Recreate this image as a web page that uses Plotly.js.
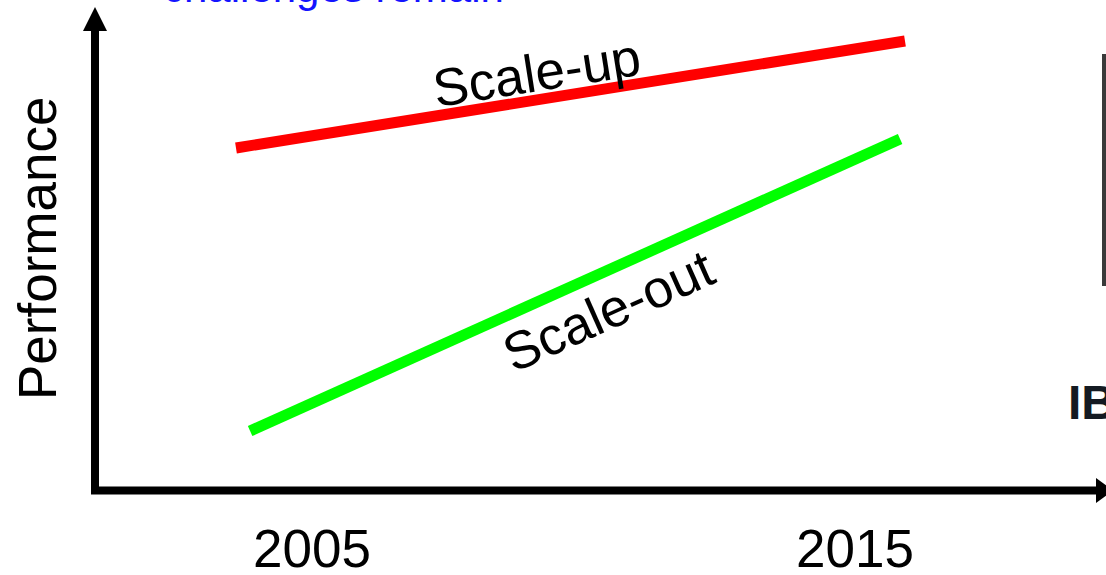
<!DOCTYPE html>
<html>
<head>
<meta charset="utf-8">
<script src="https://cdn.plot.ly/plotly-3.0.1.min.js"></script>
<style>html,body{margin:0;padding:0;background:#fff;}#chart{width:1106px;height:575px;}</style>
</head>
<body>
<div id="chart"></div>
<script>
// Data (performance in arbitrary units)
const scaleUpYears = [2003.60, 2015.92];
const scaleUpPerf = [342, 449];
const scaleOutYears = [2003.86, 2015.83];
const scaleOutPerf = [59, 351];
const tickYears = [2005, 2015];
const tickLabels = ['2005', '2015'];

const FONT = 'Liberation Sans, Arial, sans-serif';

const traces = [
  {x: scaleUpYears, y: scaleUpPerf, mode: 'lines', line: {color: '#ff0000', width: 11}, hoverinfo: 'skip', name: 'Scale-up'},
  {x: scaleOutYears, y: scaleOutPerf, mode: 'lines', line: {color: '#00ff00', width: 11}, hoverinfo: 'skip', name: 'Scale-out'}
];

// helper: pixel -> paper (plot area l=96, width 1010, top 0, height 490)
const px = X => (X - 96) / 1010;
const py = Y => (490 - Y) / 490;

const layout = {
  width: 1106, height: 575,
  margin: {l: 96, r: 0, t: 0, b: 85, pad: 0},
  paper_bgcolor: '#ffffff', plot_bgcolor: '#ffffff',
  showlegend: false,
  font: {family: FONT, color: '#000'},
  xaxis: {
    range: [2001.022, 2019.622], showgrid: false, zeroline: false, showline: false,
    tickvals: tickYears, ticktext: tickLabels, ticks: 'outside', ticklen: 12,
    tickcolor: 'rgba(0,0,0,0)', tickfont: {size: 53, family: FONT, color: '#000'},
    automargin: false, fixedrange: true
  },
  yaxis: {
    range: [0, 490], showgrid: false, zeroline: false, showline: false,
    showticklabels: false, ticks: '', automargin: false, fixedrange: true
  },
  shapes: [
    // y axis shaft + arrow
    {type: 'line', xref: 'paper', yref: 'paper', x0: px(95), x1: px(95), y0: py(494), y1: py(28), line: {color: '#000', width: 8}},
    {type: 'path', xref: 'paper', yref: 'paper',
     path: `M ${px(83)} ${py(31)} L ${px(107)} ${py(31)} L ${px(95)} ${py(7)} Z`, fillcolor: '#000', line: {width: 0}},
    // x axis shaft + arrow
    {type: 'line', xref: 'paper', yref: 'paper', x0: px(91), x1: px(1097), y0: py(490.5), y1: py(490.5), line: {color: '#000', width: 8}},
    {type: 'path', xref: 'paper', yref: 'paper',
     path: `M ${px(1096)} ${py(478)} L ${px(1096)} ${py(503)} L ${px(1113)} ${py(490.5)} Z`, fillcolor: '#000', line: {width: 0}},
    // partial dark frame of picture at right edge
    {type: 'rect', xref: 'paper', yref: 'paper', x0: px(1102), x1: px(1112), y0: py(286), y1: py(54), fillcolor: '#3a3a3a', line: {width: 0}}
  ],
  annotations: [
    {text: 'Performance', xref: 'paper', yref: 'paper', x: px(37), y: py(249), textangle: -90,
     showarrow: false, font: {size: 53, family: FONT, color: '#000'}, xanchor: 'center', yanchor: 'middle'},
    {text: 'Scale-up', xref: 'x', yref: 'y', x: 2009.14, y: 418, textangle: -9,
     showarrow: false, font: {size: 53, family: FONT, color: '#000'}, xanchor: 'center', yanchor: 'middle'},
    {text: 'Scale-out', xref: 'x', yref: 'y', x: 2010.45, y: 180, textangle: -24,
     showarrow: false, font: {size: 53, family: FONT, color: '#000'}, xanchor: 'center', yanchor: 'middle'},
    {text: 'challenges remain', xref: 'paper', yref: 'paper', x: px(333), y: py(-12),
     showarrow: false, font: {size: 42, family: FONT, color: '#1414ff'}, xanchor: 'center', yanchor: 'middle'},
    {text: '<b>IBM</b>', xref: 'paper', yref: 'paper', x: px(1066), y: py(402),
     showarrow: false, font: {size: 48, family: FONT, color: '#141a22'}, xanchor: 'left', yanchor: 'middle'}
  ]
};

Plotly.newPlot('chart', traces, layout, {staticPlot: true, displayModeBar: false});
</script>
</body>
</html>
